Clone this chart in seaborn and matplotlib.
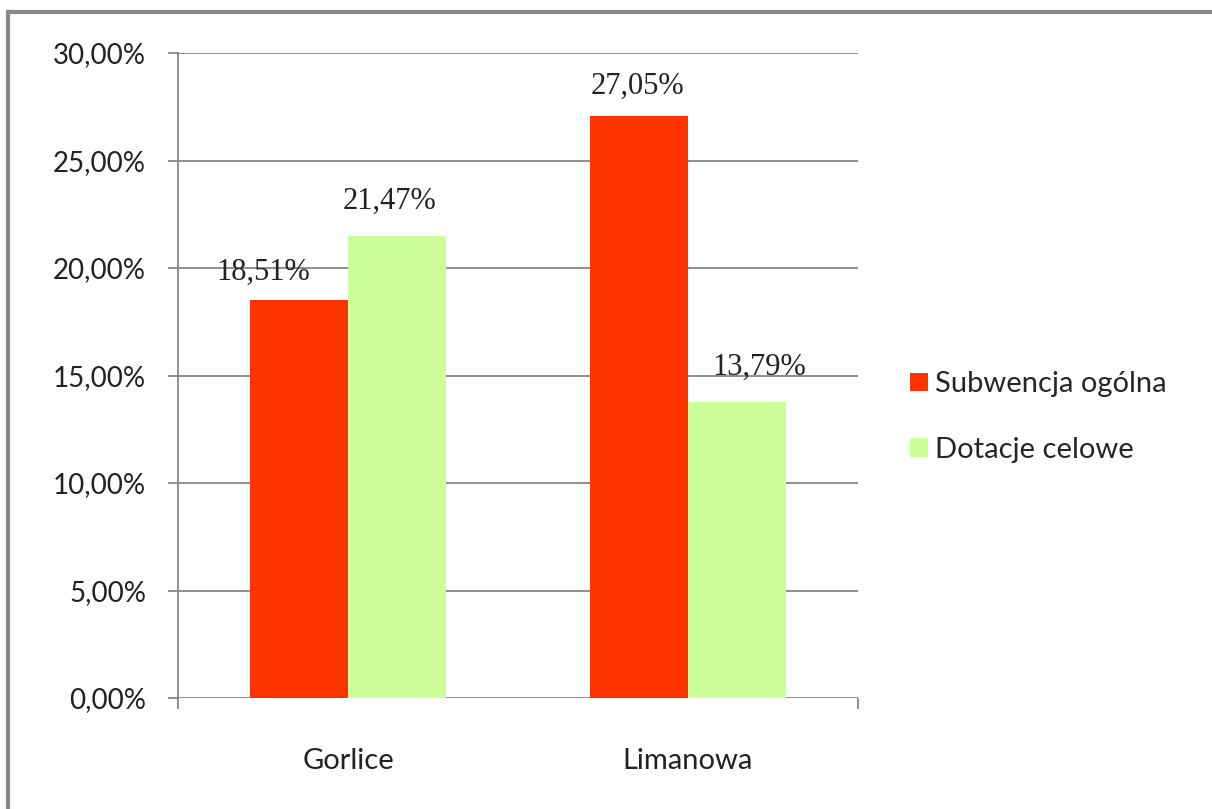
import matplotlib
matplotlib.use("Agg")
import matplotlib.pyplot as plt
import seaborn as sns
import pandas as pd
from matplotlib.patches import Rectangle
from matplotlib.ticker import FuncFormatter, FixedLocator

categories = ["Gorlice", "Limanowa"]
series = ["Subwencja ogólna", "Dotacje celowe"]
subwencja = [18.51, 27.05]
dotacje = [21.47, 13.79]
colors = ["#FF3300", "#CCFF99"]
yticks = [0, 5, 10, 15, 20, 25, 30]

df = pd.DataFrame({
    "Powiat": categories * 2,
    "Seria": [series[0]] * 2 + [series[1]] * 2,
    "Wartość": subwencja + dotacje,
})

sns.set_theme(style="white")
plt.rcParams["font.family"] = ["Lato", "DejaVu Sans"]

fig = plt.figure(figsize=(12.12, 8.09), dpi=100)
ax = fig.add_axes([178/1212, 1 - 698/809, 680/1212, 645/809])

sns.barplot(data=df, x="Powiat", y="Wartość", hue="Seria", palette=colors,
            width=0.574, saturation=1, ax=ax, legend=True, zorder=3)
for p in ax.patches:
    p.set_edgecolor("none")

ax.set_ylim(0, 30)
ax.set_xlim(-0.5, 1.5)
ax.set_yticks(yticks)
ax.yaxis.set_major_formatter(FuncFormatter(lambda v, _: f"{v:.2f}%".replace(".", ",")))
ax.grid(axis="y", color="#868686", linewidth=1.3, zorder=0)
ax.set_axisbelow(True)
for s in ["top", "right", "bottom"]:
    ax.spines[s].set_visible(False)
ax.spines["left"].set_color("#868686")
ax.spines["left"].set_linewidth(1.3)
ax.tick_params(axis="y", left=True, length=7, width=1.3, color="#868686",
               labelsize=20, labelcolor="#222222", pad=16)
ax.tick_params(axis="x", bottom=False, labelsize=21, labelcolor="#222222", pad=30)
ax.xaxis.set_minor_locator(FixedLocator([-0.5, 1.5]))
ax.tick_params(axis="x", which="minor", bottom=True, length=8, width=1.3, color="#868686")
ax.set_xlabel("")
ax.set_ylabel("")

# value labels (with slight offsets as in the reference), offsets in points
label_offsets = {(0, 0): (-26, 14.5), (1, 0): (-5, 20), (0, 1): (-1, 16), (1, 1): (16, 19.5)}
vals = [subwencja, dotacje]
for si, cont in enumerate(ax.containers):
    for ci, bar in enumerate(cont):
        v = vals[si][ci]
        dx, dy = label_offsets[(si, ci)]
        ax.annotate(f"{v:.2f}%".replace(".", ","),
                    (bar.get_x() + bar.get_width() / 2, bar.get_height()),
                    xytext=(dx, dy), textcoords="offset points",
                    ha="center", va="baseline", fontsize=22,
                    family=["Liberation Serif", "DejaVu Serif"], color="#222222")

leg = ax.legend(loc="center left", bbox_to_anchor=((884 - 178) / 680, (698 - 417) / 645),
                frameon=False, fontsize=21, handlelength=0.6, handleheight=0.6,
                handletextpad=0.25, labelspacing=1.35)

# outer chart border (left + top visible)
fig.patches.append(Rectangle((8/1212, -0.1), 1.2, (1 - 12/809) + 0.1,
                             transform=fig.transFigure, fill=False,
                             edgecolor="#888888", linewidth=3))

fig.savefig("out.png", dpi=100, facecolor="white")
